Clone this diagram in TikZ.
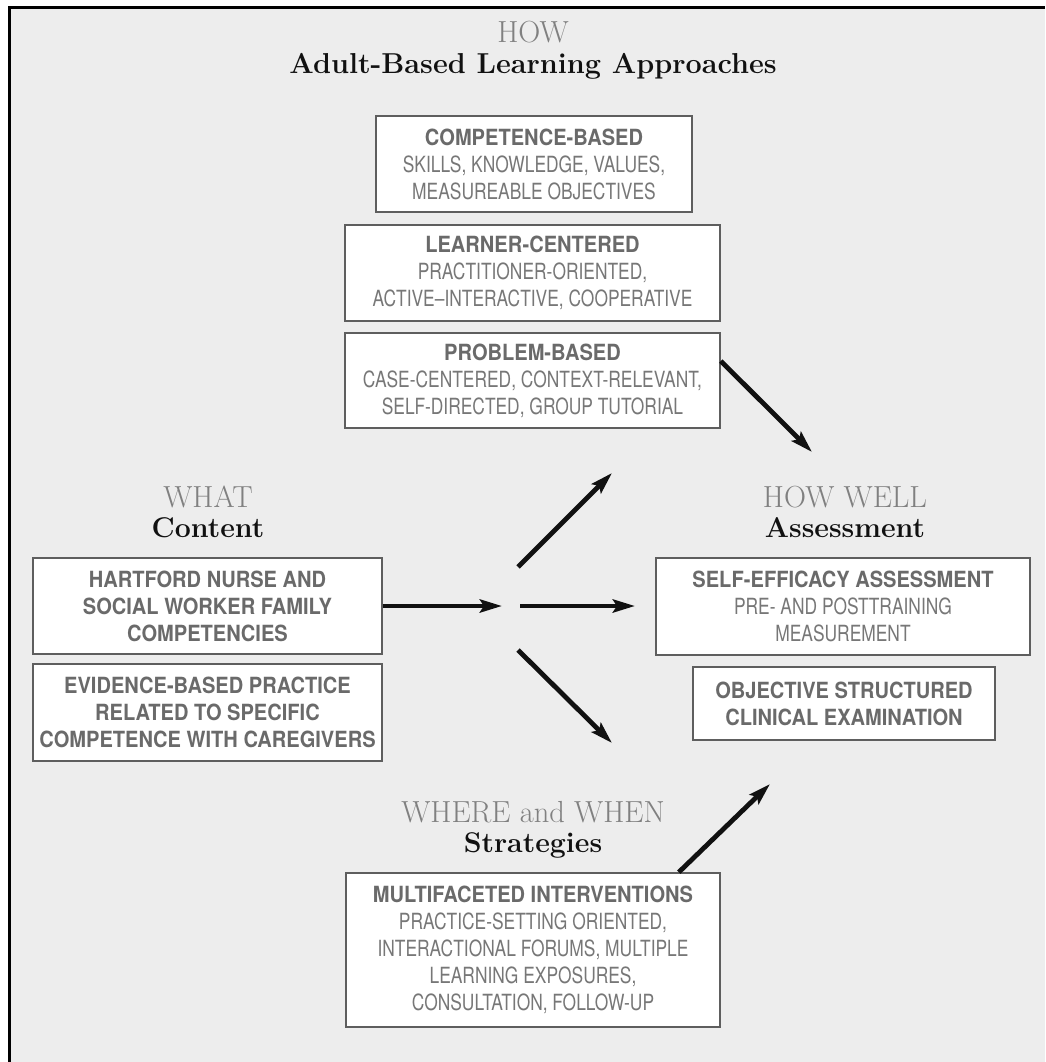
\documentclass[tikz,border=0pt]{standalone}
\usepackage{fontspec}
\usetikzlibrary{arrows.meta}
\newfontfamily\hbold[FakeStretch=0.9]{TeX Gyre Heros}
\newfontfamily\hreg[FakeStretch=0.78]{TeX Gyre Heros}
\definecolor{bggray}{HTML}{EDEDED}
\definecolor{boxline}{HTML}{5E5E5E}
\definecolor{headgray}{HTML}{6A6A6A}
\definecolor{bodygray}{HTML}{777777}
\definecolor{titlegray}{HTML}{808080}
\definecolor{titleblk}{HTML}{111111}
\definecolor{arrowblk}{HTML}{111111}
\newcommand\boxhead[1]{{\hbold\bfseries\color{headgray}#1}}
\newcommand\boxbody[1]{{\hreg\color{bodygray}#1}}
\begin{document}
\begin{tikzpicture}[x=1pt,y=-1pt,
  box/.style={draw=boxline, line width=1.6pt, fill=white, inner sep=0pt, align=center,
    font=\fontsize{22.3}{27}\selectfont},
  arr/.style={draw=arrowblk, line width=4.8pt, -{Stealth[length=22pt,width=13pt,inset=4pt]}},
  toptitle/.style={text=titlegray, font=\fontsize{30.5}{32}\selectfont, anchor=base, inner sep=0pt},
  subtitle/.style={text=titleblk, font=\bfseries\fontsize{28.5}{31}\selectfont, anchor=base, inner sep=0pt}]
\useasboundingbox (0,0) rectangle (1045,1062);
\fill[white] (0,0) rectangle (1045,1062);
\fill[bggray] (9,7) rectangle (1045,1062);
\draw[line width=3pt, black] (9,1062) -- (9,7.3) -- (1045,7.3);

% titles
\node[toptitle] (howt) at (533,43) {HOW};
\node[subtitle] (hows) at (533,74) {\fontsize{28.8}{31}\selectfont Adult-Based Learning Approaches};
\node[toptitle] (whatt) at (208,507) {WHAT};
\node[subtitle] (whats) at (208,537) {Content};
\node[toptitle] (wellt) at (845,507) {HOW WELL};
\node[subtitle] (wells) at (845,537) {Assessment};
\node[toptitle] (wheret) at (533,822) {WHERE and WHEN};
\node[subtitle] (wheres) at (533,852) {Strategies};

% boxes
\node[box, minimum width=316pt, minimum height=96pt] (comp) at (534,164)
  {\boxhead{COMPETENCE-BASED}\\ \boxbody{SKILLS, KNOWLEDGE, VALUES,}\\ \boxbody{MEASUREABLE OBJECTIVES}};
\node[box, minimum width=375pt, minimum height=96pt] (learn) at (532.5,273)
  {\boxhead{LEARNER-CENTERED}\\ \boxbody{PRACTITIONER-ORIENTED,}\\ \boxbody{ACTIVE–INTERACTIVE, COOPERATIVE}};
\node[box, minimum width=375pt, minimum height=95pt] (prob) at (532.5,380.5)
  {\boxhead{PROBLEM-BASED}\\ \boxbody{CASE-CENTERED, CONTEXT-RELEVANT,}\\ \boxbody{SELF-DIRECTED, GROUP TUTORIAL}};
\node[box, minimum width=349pt, minimum height=96pt] (hart) at (207.5,606)
  {\boxhead{HARTFORD NURSE AND}\\ \boxhead{SOCIAL WORKER FAMILY}\\ \boxhead{COMPETENCIES}};
\node[box, minimum width=349pt, minimum height=97pt] (evid) at (207.5,712.5)
  {\boxhead{EVIDENCE-BASED PRACTICE}\\ \boxhead{RELATED TO SPECIFIC}\\ \boxhead{COMPETENCE WITH CAREGIVERS}};
\node[box, minimum width=374pt, minimum height=97pt] (self) at (843,606.5)
  {\boxhead{SELF-EFFICACY ASSESSMENT}\\ \boxbody{PRE- AND POSTTRAINING}\\ \boxbody{MEASUREMENT}};
\node[box, minimum width=302pt, minimum height=73pt] (osce) at (844,703.5)
  {\boxhead{OBJECTIVE STRUCTURED}\\ \boxhead{CLINICAL EXAMINATION}};
\node[box, minimum width=374pt, minimum height=154pt] (multi) at (533,950)
  {\boxhead{MULTIFACETED INTERVENTIONS}\\ \boxbody{PRACTICE-SETTING ORIENTED,}\\ \boxbody{INTERACTIONAL FORUMS, MULTIPLE}\\ \boxbody{LEARNING EXPOSURES,}\\ \boxbody{CONSULTATION, FOLLOW-UP}};

% free arrow ends
\coordinate (tipH) at (502,606);
\coordinate (hubU) at (518,567);
\coordinate (tipU) at (612,473);
\coordinate (hubM) at (520,606);
\coordinate (tipM) at (635,606);
\coordinate (hubL) at (518,650);
\coordinate (tipL) at (612,743);
\coordinate (tipP) at (812,452);
\coordinate (tipS) at (770,784);

% arrows
\draw[arr] (hart.east) -- (tipH);
\draw[arr] (hubU) -- (tipU);
\draw[arr] (hubM) -- (tipM);
\draw[arr] (hubL) -- (tipL);
\draw[arr] ([yshift=19.5pt]prob.east) -- (tipP);
\draw[arr] ([xshift=-42pt]multi.north east) -- (tipS);
\end{tikzpicture}
\end{document}
